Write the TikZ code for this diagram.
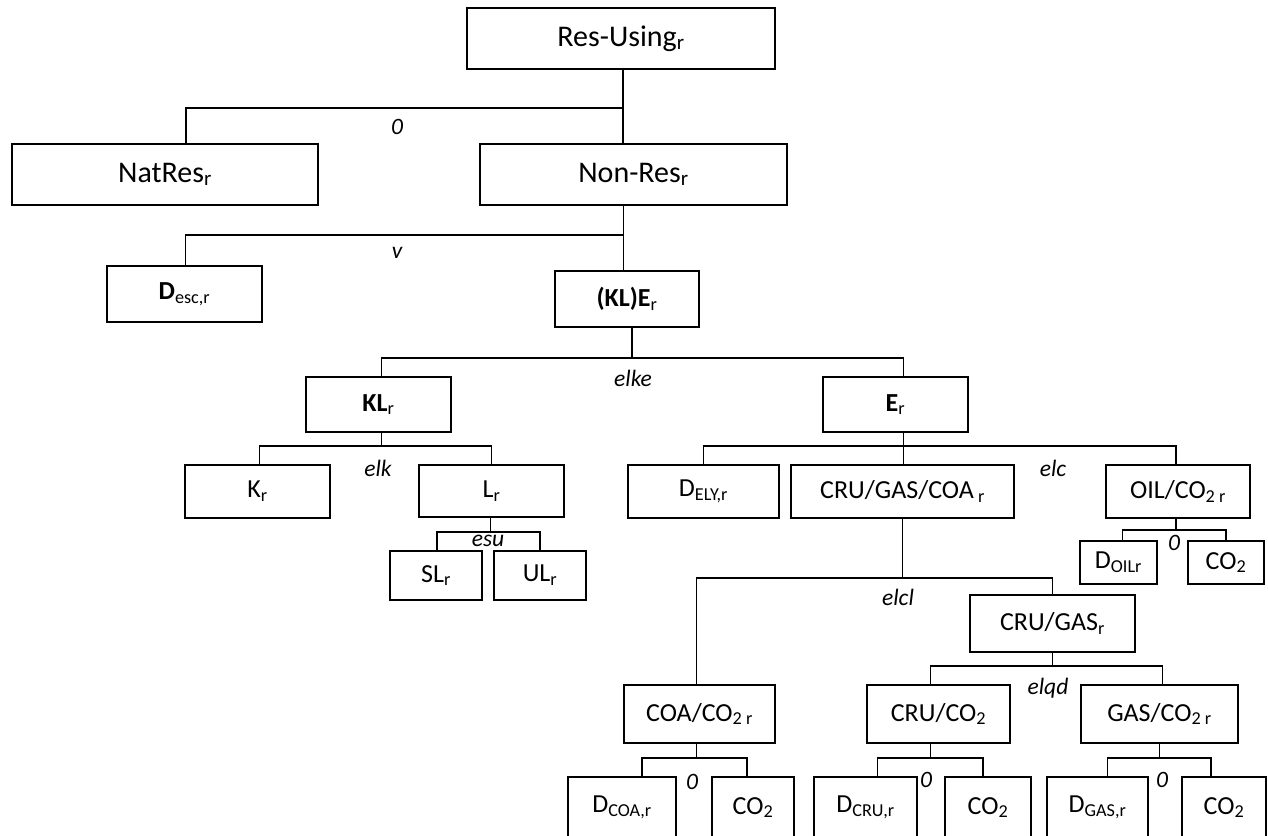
\documentclass[tikz,border=0pt]{standalone}
\usepackage{fontspec}
\setmainfont{Carlito}
% \boxnode{style}{name}{x1}{x2}{y1}{y2}{text}: framed box given by its edges
\newcommand\boxnode[7]{%
  \node[box,#1,minimum width={(#4)-(#3)},minimum height={(#6)-(#5)}]
    (#2) at ({((#3)+(#4))/2},{((#5)+(#6))/2}) {#7};}
\begin{document}
\begin{tikzpicture}[x=1pt,y=-1pt,
  box/.style={draw,line width=1.9pt,inner sep=0pt,align=center},
  big/.style={font=\fontsize{30}{36}\selectfont},
  norm/.style={font=\fontsize{26}{31}\selectfont},
  lab/.style={font=\fontsize{23.5}{28}\selectfont\itshape,inner sep=0pt},
  link/.style={line width=1.9pt}]
\useasboundingbox (0,0) rectangle (1268,835);
\clip (0,0) rectangle (1268,835);

% top levels
\boxnode{big}{Res}{467}{775}{8}{69}{Res-Using\textsubscript{r}}
\boxnode{big}{Nat}{12}{318}{144}{205}{NatRes\textsubscript{r}}
\boxnode{big}{Non}{480}{787}{144}{205}{Non-Res\textsubscript{r}}
\boxnode{norm}{Desc}{107}{262}{266}{322}{\textbf{D}\textsubscript{esc,r}}
\boxnode{norm}{KLE}{555}{699}{271}{327}{\textbf{(KL)E}\textsubscript{r}}
\boxnode{norm}{KL}{306}{451}{377}{432}{\textbf{KL}\textsubscript{r}}
\boxnode{norm}{E}{823}{968}{377}{432}{\textbf{E}\textsubscript{r}}

% capital / labour
\boxnode{norm}{K}{185}{330}{465}{518}{K\textsubscript{r}}
\boxnode{norm}{L}{419}{564}{465}{517}{L\textsubscript{r}}
\boxnode{norm}{SL}{390}{482}{551}{600}{SL\textsubscript{r}}
\boxnode{norm}{UL}{494}{586}{551}{600}{UL\textsubscript{r}}

% energy
\boxnode{norm}{DELY}{628}{779}{465}{518}{D\textsubscript{ELY,r}}
\boxnode{norm}{CGC}{791}{1014}{465}{518}{CRU/GAS/COA\textsubscript{\ r}}
\boxnode{norm}{OIL}{1106}{1250}{465}{518}{OIL/CO\textsubscript{2\ r}}
\boxnode{norm}{DOIL}{1080}{1157}{541}{584}{D\textsubscript{OILr}}
\boxnode{norm}{COa}{1188}{1264}{541}{584}{CO\textsubscript{2}}
\boxnode{norm}{CG}{970}{1135}{595}{652}{CRU/GAS\textsubscript{r}}
\boxnode{norm}{COACO}{624}{775}{685}{743}{COA/CO\textsubscript{2\ r}}
\boxnode{norm}{CRUCO}{867}{1010}{685}{743}{CRU/CO\textsubscript{2}}
\boxnode{norm}{GASCO}{1081}{1238}{685}{743}{GAS/CO\textsubscript{2\ r}}
\boxnode{norm}{DCOA}{568}{676}{777}{838}{D\textsubscript{COA,r}}
\boxnode{norm}{COb}{712}{794}{777}{838}{CO\textsubscript{2}}
\boxnode{norm}{DCRU}{814}{917}{777}{838}{D\textsubscript{CRU,r}}
\boxnode{norm}{COc}{945}{1031}{777}{838}{CO\textsubscript{2}}
\boxnode{norm}{DGAS}{1047}{1148}{777}{838}{D\textsubscript{GAS,r}}
\boxnode{norm}{COd}{1182}{1266}{777}{838}{CO\textsubscript{2}}

% substitution elasticities
\node[lab] (e0) at (397,127) {0};
\node[lab] (ev) at (397,253) {v};
\node[lab] (elke) at (633,378) {elke};
\node[lab] (elk) at (378,468) {elk};
\node[lab] (esu) at (488,541) {esu};
\node[lab] (elc) at (1053,468) {elc};
\node[lab] (eoil) at (1174,543) {0};
\node[lab] (elcl) at (898,597) {elcl};
\node[lab] (elqd) at (1048,688) {elqd};
\node[lab] (ecoa) at (692,782) {0};
\node[lab] (ecru) at (926,780) {0};
\node[lab] (egas) at (1162,780) {0};

% connectors
\draw[link] ([xshift=2]Res.south) -- ++(0,38) coordinate (b0);
\draw[link] (b0) -- (b0 |- Non.north);
\draw[link] ([xshift=21]Nat.north) |- (b0);

\draw[link] ([xshift=-10]Non.south) -- ++(0,29) coordinate (b1);
\draw[link] (b1) -- (b1 |- KLE.north);
\draw[link] ([xshift=1]Desc.north) |- (b1);

\draw[link] ([xshift=5]KLE.south) -- ++(0,30) coordinate (b2);
\draw[link] ([xshift=3]KL.north) |- (b2);
\draw[link] ([xshift=8]E.north) |- (b2);

\draw[link] ([xshift=3]KL.south) -- ++(0,13) coordinate (b3);
\draw[link] ([xshift=2]K.north) |- (b3);
\draw[link] (L.north) |- (b3);

\draw[link] ([xshift=-1]L.south) -- ++(0,14) coordinate (b4);
\draw[link] ([xshift=1]SL.north) |- (b4);
\draw[link] (UL.north) |- (b4);

\draw[link] ([xshift=8]E.south) -- ++(0,13) coordinate (b5);
\draw[link] (DELY.north) |- (b5);
\draw[link] (b5) -- (b5 |- CGC.north);
\draw[link] ([xshift=-2]OIL.north) |- (b5);

\draw[link] ([xshift=-2]OIL.south) -- ++(0,11) coordinate (b6);
\draw[link] ([xshift=4]DOIL.north) |- (b6);
\draw[link] (COa.north) |- (b6);

\draw[link] (CGC.south) -- ++(0,59) coordinate (b7);
\draw[link] ([xshift=-3]COACO.north) |- (b7);
\draw[link] (CG.north) |- (b7);

\draw[link] (CG.south) -- ++(0,13) coordinate (b8);
\draw[link] ([xshift=-8]CRUCO.north) |- (b8);
\draw[link] ([xshift=3]GASCO.north) |- (b8);

\draw[link] ([xshift=-3]COACO.south) -- ++(0,14) coordinate (b9);
\draw[link] ([xshift=20]DCOA.north) |- (b9);
\draw[link] ([xshift=-6]COb.north) |- (b9);

\draw[link] ([xshift=-8]CRUCO.south) -- ++(0,14) coordinate (b10);
\draw[link] ([xshift=12]DCRU.north) |- (b10);
\draw[link] ([xshift=-5]COc.north) |- (b10);

\draw[link] (GASCO.south) -- ++(0,14) coordinate (b11);
\draw[link] ([xshift=10]DGAS.north) |- (b11);
\draw[link] ([xshift=-13]COd.north) |- (b11);
\end{tikzpicture}
\end{document}
